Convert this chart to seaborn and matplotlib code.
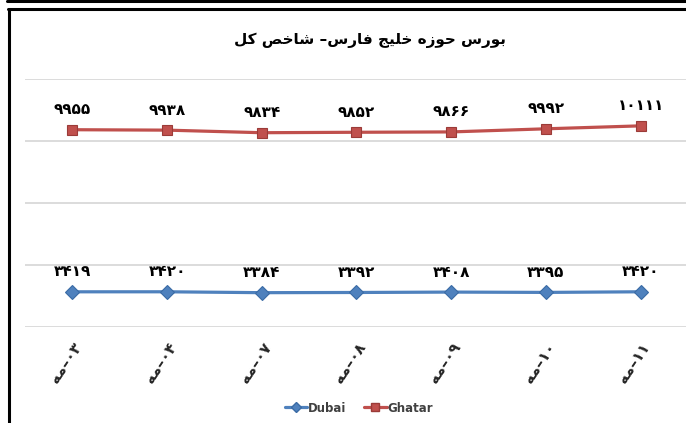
import matplotlib
matplotlib.use("Agg")
import matplotlib.pyplot as plt
import pandas as pd
import seaborn as sns
from matplotlib.lines import Line2D

# Data
days = ["۰۳", "۰۴", "۰۷", "۰۸", "۰۹", "۱۰", "۱۱"]
month = "مه"
dubai = [3419, 3420, 3384, 3392, 3408, 3395, 3420]
ghatar = [9955, 9938, 9834, 9852, 9866, 9992, 10111]
series_names = ["Dubai", "Ghatar"]
title = "بورس حوزه خلیج فارس– شاخص کل"

# Minimal Persian shaping (matplotlib has no RTL / contextual forms)
FORMS = {
    "ا": ("\uFE8D", "\uFE8E"), "د": ("\uFEA9", "\uFEAA"), "ر": ("\uFEAD", "\uFEAE"),
    "ز": ("\uFEAF", "\uFEB0"), "و": ("\uFEED", "\uFEEE"),
    "ب": ("\uFE8F", "\uFE90", "\uFE91", "\uFE92"),
    "ج": ("\uFE9D", "\uFE9E", "\uFE9F", "\uFEA0"),
    "ح": ("\uFEA1", "\uFEA2", "\uFEA3", "\uFEA4"),
    "خ": ("\uFEA5", "\uFEA6", "\uFEA7", "\uFEA8"),
    "س": ("\uFEB1", "\uFEB2", "\uFEB3", "\uFEB4"),
    "ش": ("\uFEB5", "\uFEB6", "\uFEB7", "\uFEB8"),
    "ص": ("\uFEB9", "\uFEBA", "\uFEBB", "\uFEBC"),
    "ف": ("\uFED1", "\uFED2", "\uFED3", "\uFED4"),
    "ل": ("\uFEDD", "\uFEDE", "\uFEDF", "\uFEE0"),
    "م": ("\uFEE1", "\uFEE2", "\uFEE3", "\uFEE4"),
    "ه": ("\uFEE9", "\uFEEA", "\uFEEB", "\uFEEC"),
    "ی": ("\uFBFC", "\uFBFD", "\uFBFE", "\uFBFF"),
    "ک": ("\uFB8E", "\uFB8F", "\uFB90", "\uFB91"),
}


def shape(text):
    out = []
    for i, c in enumerate(text):
        if c not in FORMS:
            out.append(c)
            continue
        prev = text[i - 1] if i > 0 else ""
        nxt = text[i + 1] if i < len(text) - 1 else ""
        jp = prev in FORMS and len(FORMS[prev]) == 4
        jn = len(FORMS[c]) == 4 and nxt in FORMS
        f = FORMS[c]
        if jp and jn:
            out.append(f[3])
        elif jp:
            out.append(f[1])
        elif jn:
            out.append(f[2])
        else:
            out.append(f[0])
    return "".join(out)[::-1]


def fa_num(v):
    return str(v).translate(str.maketrans("0123456789", "۰۱۲۳۴۵۶۷۸۹"))


labels = [shape(month) + "–" + d for d in days]

df = pd.DataFrame({
    "date": labels * 2,
    "value": dubai + ghatar,
    "series": [series_names[0]] * len(dubai) + [series_names[1]] * len(ghatar),
})

sns.set_style("white")
plt.rcParams["font.family"] = ["DejaVu Sans"]

fig = plt.figure(figsize=(6.86, 4.23), dpi=100)
ax = fig.add_axes([25 / 686, 1 - 327 / 423, 663 / 686, 248 / 423])

colors = {"Dubai": "#4F81BD", "Ghatar": "#C0504D"}
sns.lineplot(data=df, x="date", y="value", hue="series", style="series",
             markers={"Dubai": "D", "Ghatar": "s"}, dashes=False, sort=False,
             palette=colors, linewidth=2.3, markersize=7.5, ax=ax, legend=False)
for line, edge in zip(ax.lines, ["#3A6BA5", "#9B3B38"]):
    line.set_markeredgecolor(edge)
    line.set_markeredgewidth(0.8)
ax.lines[0].set_markersize(7)

# data labels
for name, vals in [("Dubai", dubai), ("Ghatar", ghatar)]:
    for i, v in enumerate(vals):
        ax.annotate(fa_num(v), (i, v), xytext=(0, 9), textcoords="offset points",
                    ha="center", va="bottom", fontsize=11, fontweight="bold",
                    color="black")

ax.set_xlim(-0.5, len(labels) - 0.5)
ax.set_ylim(2000, 12000)
ax.set_yticks([2000, 4500, 7000, 9500, 12000])
ax.set_yticklabels([])
ax.grid(axis="y", color="#D9D9D9", linewidth=1.3)
ax.grid(axis="x", visible=False)
for s in ax.spines.values():
    s.set_visible(False)
ax.tick_params(axis="both", length=0)
ax.set_xlabel("")
ax.set_ylabel("")
plt.setp(ax.get_xticklabels(), rotation=56, ha="right", rotation_mode="anchor",
         fontsize=11, fontweight="bold")
ax.tick_params(axis="x", pad=9)

fig.text(370 / 686, 1 - 40 / 423, shape(title), ha="center", va="center",
         fontsize=11, fontweight="bold", color="black")

handles = [Line2D([], [], color=colors["Dubai"], marker="D", markersize=5,
                  markeredgecolor="#3A6BA5", linewidth=2.3),
           Line2D([], [], color=colors["Ghatar"], marker="s", markersize=6,
                  markeredgecolor="#9B3B38", linewidth=2.3)]
fig.legend(handles, series_names, loc="center", bbox_to_anchor=(359 / 686, 1 - 408 / 423),
           ncol=2, frameon=False, handlelength=1.9, handletextpad=0.1, columnspacing=1.5,
           prop={"size": 8.5, "weight": "bold"}, labelcolor="#404040")

# outer frame lines
fig.add_artist(Line2D([7 / 686, 1], [1 - 1.5 / 423] * 2, color="black", linewidth=2.2))
fig.add_artist(Line2D([8 / 686, 1], [1 - 9 / 423] * 2, color="black", linewidth=2.2))
fig.add_artist(Line2D([9 / 686] * 2, [0, 1 - 9 / 423], color="black", linewidth=2.2))

fig.savefig("out.png", dpi=100)
